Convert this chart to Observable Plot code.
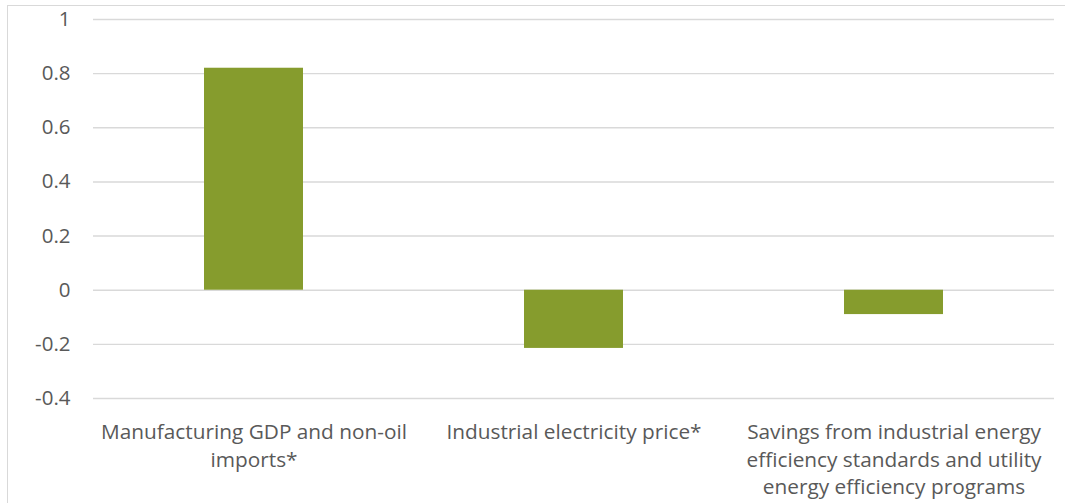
<!DOCTYPE html>
<html>
<head>
<meta charset="utf-8">
<script src="https://cdn.jsdelivr.net/npm/d3@7"></script>
<script src="https://cdn.jsdelivr.net/npm/@observablehq/plot@0.6"></script>
<style>
  html, body { margin: 0; padding: 0; background: #fff; }
  #wrap { position: relative; width: 1065px; height: 503px; overflow: hidden; }
  #frame { position: absolute; left: 7px; top: 5px; width: 1080px; height: 520px; border: 1.5px solid #d9d9d9; box-sizing: border-box; pointer-events: none; }
  #chart { position: absolute; left: 0; top: 0; }
</style>
</head>
<body>
<div id="wrap"><div id="chart"></div><div id="frame"></div></div>
<script>
const categories = [
  "Manufacturing GDP and non-oil imports*",
  "Industrial electricity price*",
  "Savings from industrial energy efficiency standards and utility energy efficiency programs"
];
const categoryLabels = [
  "Manufacturing GDP and non-oil\nimports*",
  "Industrial electricity price*",
  "Savings from industrial energy\nefficiency standards and utility\nenergy efficiency programs"
];
const values = [0.82, -0.215, -0.09];
const yTicks = [-0.4, -0.2, 0, 0.2, 0.4, 0.6, 0.8, 1];
const yTickLabels = ["-0.4", "-0.2", "0", "0.2", "0.4", "0.6", "0.8", "1"];

const data = categories.map((c, i) => ({category: c, value: values[i]}));
const labelOf = new Map(categories.map((c, i) => [c, categoryLabels[i]]));
const tickLabelOf = new Map(yTicks.map((t, i) => [t, yTickLabels[i]]));

const textColor = "#595959";
const font = "'Open Sans', 'DejaVu Sans', sans-serif";

const chart = Plot.plot({
  width: 1065,
  height: 503,
  marginLeft: 93,
  marginRight: 11,
  marginTop: 19,
  marginBottom: 105,
  style: {fontFamily: font, color: textColor, background: "transparent"},
  x: {domain: categories, paddingInner: 0.69, paddingOuter: 0.345, label: null},
  y: {domain: [-0.4, 1], label: null},
  marks: [
    Plot.ruleY(yTicks, {stroke: "#d9d9d9", strokeWidth: 1.4}),
    Plot.barY(data, {x: "category", y: "value", fill: "#869c2d"}),
    Plot.axisY({
      ticks: yTicks,
      tickSize: 0,
      tickPadding: 23,
      tickFormat: d => tickLabelOf.get(d),
      fontSize: 20.5,
      fill: textColor,
      label: null
    }),
    Plot.axisX({
      tickSize: 0,
      tickPadding: 21,
      tickFormat: d => labelOf.get(d),
      fontSize: 20.8,
      lineHeight: 1.33,
      fill: textColor,
      label: null
    })
  ]
});
document.getElementById("chart").appendChild(chart);
</script>
</body>
</html>
